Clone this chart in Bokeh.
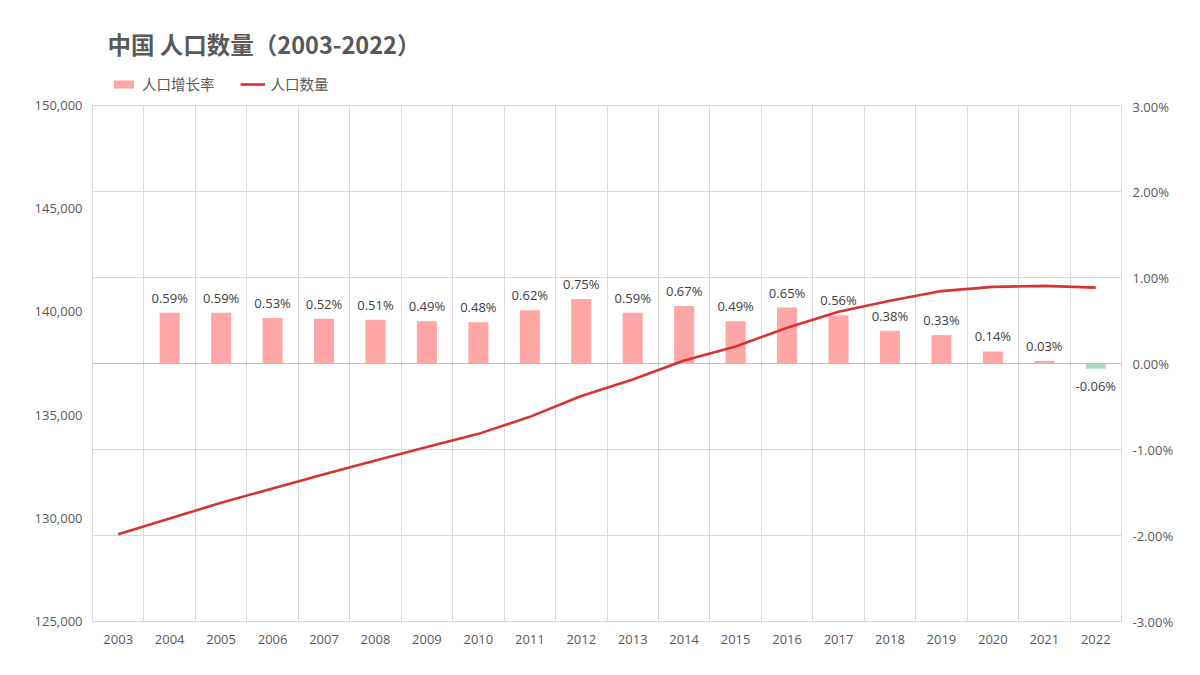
from bokeh.plotting import figure
from bokeh.layouts import column
from bokeh.models import (Range1d, LinearAxis, FixedTicker, NumeralTickFormatter, Grid,
                          Legend, LegendItem, ColumnDataSource)
from bokeh.core.properties import value
from bokeh.embed import file_html
from bokeh.resources import INLINE

years = [2003, 2004, 2005, 2006, 2007, 2008, 2009, 2010, 2011, 2012,
         2013, 2014, 2015, 2016, 2017, 2018, 2019, 2020, 2021, 2022]
population = [129227, 129988, 130756, 131448, 132129, 132802, 133450, 134091, 134916, 135922,
              136726, 137646, 138326, 139232, 140011, 140541, 141008, 141212, 141260, 141175]
growth_years = years[1:]
growth_rate = [0.59, 0.59, 0.53, 0.52, 0.51, 0.49, 0.48, 0.62, 0.75,
               0.59, 0.67, 0.49, 0.65, 0.56, 0.38, 0.33, 0.14, 0.03, -0.06]
left_ticks = [125000, 130000, 135000, 140000, 145000, 150000]
right_ticks = [-0.03, -0.02, -0.01, 0.0, 0.01, 0.02, 0.03]
title_text = "中国 人口数量（2003-2022）"
series_names = ["人口增长率", "人口数量"]

CJK = "Noto Sans CJK SC"
NUM = "Open Sans"
POS = "#FFA6A6"
NEG = "#A8DDC2"
LINE = "#D63333"
TXT = "#595959"

W = 1184
HEAD_H = 97
MAIN_H = 562
TOP, BOT, LEFT, RIGHT = 8, 38, 92, 63

# ---------- header (title + legend); its frame is aligned with the main frame ----------
hd = figure(width=W, height=HEAD_H, output_backend="svg", toolbar_location=None,
            x_range=Range1d(LEFT, W - RIGHT), y_range=Range1d(0, HEAD_H),
            min_border_left=LEFT, min_border_right=RIGHT,
            min_border_top=0, min_border_bottom=0)
hd.axis.visible = False
hd.grid.grid_line_color = None
hd.outline_line_color = None
hd.background_fill_color = "white"
hd.border_fill_color = "white"
hd.text(x=[107], y=[HEAD_H - 43], text=[title_text], text_font=value(CJK),
        text_font_size="23.5px", text_font_style="bold", text_color=TXT,
        text_baseline="middle", text_align="left")
# zero-size proxies so the legend has renderers to draw its samples from
dummy_bar = hd.vbar(x=[LEFT], top=[0], bottom=[0], width=0, fill_color=POS, line_color=None)
dummy_line = hd.line(x=[LEFT], y=[0], line_color=LINE, line_width=2.6)
legend = Legend(items=[LegendItem(label=series_names[0], renderers=[dummy_bar]),
                       LegendItem(label=series_names[1], renderers=[dummy_line])],
                orientation="horizontal", location=(111 - LEFT, 3),
                label_text_font=CJK, label_text_font_size="14.5px", label_text_color=TXT,
                glyph_width=25, glyph_height=10, spacing=25, padding=0, margin=0,
                label_standoff=6, border_line_color=None, background_fill_alpha=0)
hd.add_layout(legend, "center")

# ---------- main chart ----------
p = figure(width=W, height=MAIN_H, output_backend="svg", toolbar_location=None,
           x_range=Range1d(years[0] - 0.5, years[-1] + 0.5),
           y_range=Range1d(125000, 150000),
           min_border_left=LEFT, min_border_right=RIGHT, min_border_bottom=BOT, min_border_top=TOP)
p.extra_y_ranges = {"rate": Range1d(-0.03, 0.03)}

p.background_fill_color = "white"
p.border_fill_color = "white"
p.outline_line_color = "#D9D9D9"
p.outline_line_width = 1

p.yaxis.ticker = FixedTicker(ticks=left_ticks)
p.yaxis.formatter = NumeralTickFormatter(format="0,0")
p.xaxis.ticker = FixedTicker(ticks=years)
p.xaxis.major_label_overrides = {y: str(y) for y in years}
ra = LinearAxis(y_range_name="rate", ticker=FixedTicker(ticks=right_ticks),
                formatter=NumeralTickFormatter(format="0.00%"))
p.add_layout(ra, "right")
for ax in [p.xaxis[0], p.yaxis[0], ra]:
    ax.axis_line_color = None
    ax.major_tick_line_color = None
    ax.minor_tick_line_color = None
    ax.major_label_text_font = NUM
    ax.major_label_text_font_size = "13px"
    ax.major_label_text_color = TXT
p.yaxis[0].major_label_standoff = 4
ra.major_label_standoff = 5
p.xaxis[0].major_label_standoff = 7

p.xgrid.ticker = FixedTicker(ticks=[y - 0.5 for y in years[1:]])
p.xgrid.grid_line_color = "#D9D9D9"
p.ygrid.grid_line_color = None
g = Grid(dimension=1, y_range_name="rate", ticker=FixedTicker(ticks=[t for t in right_ticks if t != 0]),
         grid_line_color="#D9D9D9")
p.add_layout(g)
g0 = Grid(dimension=1, y_range_name="rate", ticker=FixedTicker(ticks=[0.0]),
          grid_line_color="#BFBFBF")
p.add_layout(g0)

rates = [r / 100 for r in growth_rate]
src = ColumnDataSource(dict(
    x=growth_years, top=rates,
    color=[POS if r >= 0 else NEG for r in rates],
))
p.vbar(x="x", top="top", bottom=0, width=0.39, fill_color="color", line_color=None,
       y_range_name="rate", source=src)

pos_src = ColumnDataSource(dict(x=[x for x, r in zip(growth_years, rates) if r >= 0],
                                y=[r for r in rates if r >= 0],
                                t=[f"{r:.2f}%" for r in growth_rate if r >= 0]))
neg_src = ColumnDataSource(dict(x=[x for x, r in zip(growth_years, rates) if r < 0],
                                y=[r for r in rates if r < 0],
                                t=[f"{r:.2f}%" for r in growth_rate if r < 0]))
p.text(x="x", y="y", text="t", source=pos_src, y_range_name="rate", text_align="center",
       text_baseline="bottom", y_offset=-6, text_font=value(NUM), text_font_size="13px",
       text_color="#404040")
p.text(x="x", y="y", text="t", source=neg_src, y_range_name="rate", text_align="center",
       text_baseline="top", y_offset=8, text_font=value(NUM), text_font_size="13px",
       text_color="#404040")

p.line(years, population, line_color=LINE, line_width=2.6)

layout = column(hd, p, spacing=0)
open("out.html", "w").write(file_html(layout, INLINE))
